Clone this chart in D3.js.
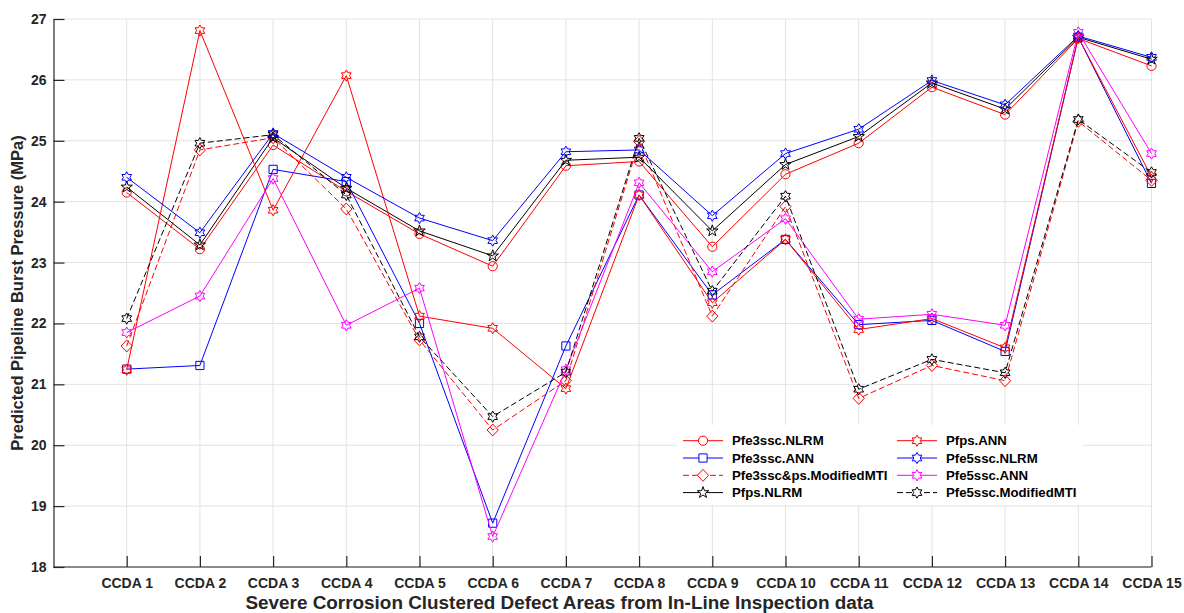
<!DOCTYPE html>
<html>
<head>
<meta charset="utf-8">
<script src="https://cdn.jsdelivr.net/npm/d3@7"></script>
<style>
  html, body { margin: 0; padding: 0; background: #fff; }
  svg { display: block; font-family: "Liberation Sans", Arial, sans-serif; font-weight: bold; }
</style>
</head>
<body>
<svg id="chart" width="1184" height="613"></svg>
<script>
// Burst pressure predictions (MPa) for each clustered defect area
const categories = ["CCDA 1","CCDA 2","CCDA 3","CCDA 4","CCDA 5","CCDA 6","CCDA 7","CCDA 8",
                    "CCDA 9","CCDA 10","CCDA 11","CCDA 12","CCDA 13","CCDA 14","CCDA 15"];
const yTicks = [18, 19, 20, 21, 22, 23, 24, 25, 26, 27];

const pfe3sscNLRM   = [24.15, 23.22, 24.93, 24.17, 23.47, 22.94, 24.59, 24.66, 23.26, 24.45, 24.96, 25.88, 25.43, 26.68, 26.23];
const pfe3sscANN    = [21.25, 21.31, 24.53, 24.33, 22.00, 18.72, 21.63, 24.11, 22.47, 23.38, 21.98, 22.05, 21.54, 26.70, 24.30];
const pfe3sscpsMTI  = [21.63, 24.85, 25.05, 23.88, 21.73, 20.25, 21.06, 24.99, 22.12, 23.92, 20.77, 21.31, 21.06, 25.32, 24.35];
const pfpsNLRM      = [24.24, 23.29, 25.05, 24.22, 23.52, 23.11, 24.68, 24.73, 23.52, 24.61, 25.07, 25.95, 25.52, 26.70, 26.34];
const pfpsANN       = [21.24, 26.81, 23.86, 26.07, 22.12, 21.92, 20.93, 24.11, 22.34, 23.38, 21.90, 22.08, 21.60, 26.70, 24.41];
const pfe5sscNLRM   = [24.40, 23.49, 25.12, 24.40, 23.73, 23.36, 24.82, 24.85, 23.77, 24.79, 25.19, 25.99, 25.59, 26.72, 26.37];
const pfe5sscANN    = [21.85, 22.45, 24.38, 21.97, 22.58, 18.50, 21.24, 24.31, 22.85, 23.72, 22.07, 22.15, 21.97, 26.78, 24.79];
const pfe5sscMTI    = [22.08, 24.96, 25.10, 24.11, 21.78, 20.47, 21.20, 25.04, 22.53, 24.09, 20.92, 21.41, 21.19, 25.35, 24.48];

const seriesNames = ["Pfe3ssc.NLRM", "Pfe3ssc.ANN", "Pfe3ssc&ps.ModifiedMTI", "Pfps.NLRM",
                     "Pfps.ANN", "Pfe5ssc.NLRM", "Pfe5ssc.ANN", "Pfe5ssc.ModifiedMTI"];
const seriesValues = [pfe3sscNLRM, pfe3sscANN, pfe3sscpsMTI, pfpsNLRM,
                      pfpsANN, pfe5sscNLRM, pfe5sscANN, pfe5sscMTI];

// styling per series
const seriesStyle = [
  { color: "#ff0000", marker: "circle",    dash: null },
  { color: "#0000ff", marker: "square",    dash: null },
  { color: "#ff0000", marker: "diamond",   dash: "6,3" },
  { color: "#000000", marker: "pentagram", dash: null },
  { color: "#ff0000", marker: "hexagram",  dash: null },
  { color: "#0000ff", marker: "hexagram",  dash: null },
  { color: "#ff00ff", marker: "hexagram",  dash: null },
  { color: "#000000", marker: "hexagram",  dash: "6,3" }
];

const series = seriesNames.map((name, i) => ({
  name, values: seriesValues[i], ...seriesStyle[i]
}));

const svg = d3.select("#chart");
const plot = { left: 53.5, right: 1151.5, top: 19, bottom: 567 };
const axisColor = "#262626";

const x = d3.scaleLinear().domain([0, categories.length]).range([plot.left, plot.right]);
const y = d3.scaleLinear().domain([18, 27]).range([plot.bottom, plot.top]);

// marker outlines
function starPath(points, rOuter, rInner) {
  const p = d3.path();
  for (let k = 0; k < points * 2; k++) {
    const r = k % 2 === 0 ? rOuter : rInner;
    const a = -Math.PI / 2 + k * Math.PI / points;
    const px = r * Math.cos(a), py = r * Math.sin(a);
    if (k === 0) p.moveTo(px, py); else p.lineTo(px, py);
  }
  p.closePath();
  return p.toString();
}
function markerPath(type) {
  switch (type) {
    case "circle":  { const p = d3.path(); p.arc(0, 0, 4.6, 0, 2 * Math.PI); p.closePath(); return p.toString(); }
    case "square":  return "M-4.1,-4.1H4.1V4.1H-4.1Z";
    case "diamond": return "M0,-6L5.6,0L0,6L-5.6,0Z";
    case "pentagram": return starPath(5, 6, 2.4);
    case "hexagram":  return starPath(6, 5.6, 3.23);
  }
}

// grid
const grid = svg.append("g");
grid.selectAll("line.gy").data(yTicks).join("line")
  .attr("x1", plot.left).attr("x2", plot.right)
  .attr("y1", d => y(d)).attr("y2", d => y(d))
  .attr("stroke", "#e3e3e3").attr("stroke-width", 1);
grid.selectAll("line.gx").data(categories).join("line")
  .attr("x1", (d, i) => x(i + 1)).attr("x2", (d, i) => x(i + 1))
  .attr("y1", plot.top).attr("y2", plot.bottom)
  .attr("stroke", "#e3e3e3").attr("stroke-width", 1);

// axes
const xAxis = d3.axisBottom(x)
  .tickValues(d3.range(1, categories.length + 1))
  .tickFormat(d => categories[d - 1])
  .tickSizeInner(-11).tickSizeOuter(0).tickPadding(10);
const gx = svg.append("g").attr("transform", `translate(0,${plot.bottom})`).call(xAxis);
gx.select(".domain").attr("stroke", axisColor).attr("stroke-width", 1.2)
  .attr("d", `M${plot.left},0H${plot.right}`);
gx.selectAll(".tick line").attr("stroke", axisColor).attr("stroke-width", 1.2);
gx.selectAll(".tick text").attr("fill", axisColor)
  .style("font-size", "14px").style("font-weight", "bold")
  .style("font-family", '"Liberation Sans", Arial, sans-serif')
  .attr("dy", "0.71em").attr("y", 11);

const yAxis = d3.axisLeft(y).tickValues(yTicks).tickFormat(d3.format("d"))
  .tickSizeInner(-11).tickSizeOuter(0).tickPadding(7);
const gy = svg.append("g").attr("transform", `translate(${plot.left},0)`).call(yAxis);
gy.select(".domain").attr("stroke", axisColor).attr("stroke-width", 1.2);
gy.selectAll(".tick line").attr("stroke", axisColor).attr("stroke-width", 1.2);
gy.selectAll(".tick text").attr("fill", axisColor)
  .style("font-size", "14px").style("font-weight", "bold")
  .style("font-family", '"Liberation Sans", Arial, sans-serif')
  .attr("x", -7);

// axis titles
svg.append("text")
  .attr("x", 559.5).attr("y", 608.5)
  .attr("text-anchor", "middle").attr("fill", axisColor)
  .style("font-size", "18.9px")
  .text("Severe Corrosion Clustered Defect Areas from In-Line Inspection data");
svg.append("text")
  .attr("transform", `translate(23,${(plot.top + plot.bottom) / 2}) rotate(-90)`)
  .attr("text-anchor", "middle").attr("fill", axisColor)
  .style("font-size", "16.5px")
  .text("Predicted Pipeline Burst Pressure (MPa)");

// series lines and markers
const line = d3.line().x((d, i) => x(i + 1)).y(d => y(d));
const gs = svg.append("g");
series.forEach(s => {
  const g = gs.append("g");
  g.append("path").datum(s.values)
    .attr("d", line).attr("fill", "none")
    .attr("stroke", s.color).attr("stroke-width", 1)
    .attr("stroke-dasharray", s.dash);
  g.selectAll("path.m").data(s.values).join("path")
    .attr("class", "m")
    .attr("transform", (d, i) => `translate(${x(i + 1)},${y(d)})`)
    .attr("d", markerPath(s.marker))
    .attr("fill", "none").attr("stroke", s.color).attr("stroke-width", 1);
});

// legend
const legend = svg.append("g").attr("transform", "translate(677,425)");
legend.append("rect").attr("width", 406).attr("height", 80).attr("fill", "#fff");
const rowH = 17.3, row0 = 15.7;
series.forEach((s, i) => {
  const col = Math.floor(i / 4), row = i % 4;
  const ox = col === 0 ? 6 : 220;
  const oy = row0 + row * rowH;
  const item = legend.append("g").attr("transform", `translate(${ox},${oy})`);
  item.append("line").attr("x1", 0).attr("x2", 40).attr("y1", 0).attr("y2", 0)
    .attr("stroke", s.color).attr("stroke-width", 1).attr("stroke-dasharray", s.dash);
  item.append("path").attr("transform", "translate(20,0)")
    .attr("d", markerPath(s.marker)).attr("fill", "#fff")
    .attr("stroke", s.color).attr("stroke-width", 1);
  item.append("text").attr("x", 49).attr("y", 0).attr("dy", "0.35em")
    .attr("fill", "#000").style("font-size", "13.2px").text(s.name);
});
</script>
</body>
</html>
